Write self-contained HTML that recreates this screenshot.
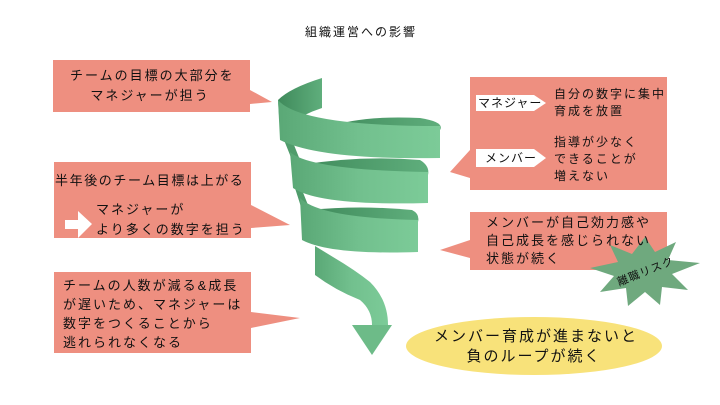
<!DOCTYPE html>
<html><head><meta charset="utf-8"><style>
html,body{margin:0;padding:0;background:#fff;}
body{width:720px;height:405px;position:relative;overflow:hidden;font-family:"Liberation Sans","Noto Sans CJK JP",sans-serif;color:#111;}
.t{position:absolute;white-space:nowrap;letter-spacing:2px;font-size:13px;line-height:17px;}
</style></head><body>
<svg width="720" height="405" style="position:absolute;left:0;top:0">
<defs>
<linearGradient id="g" x1="0" x2="1" y1="0" y2="0"><stop offset="0" stop-color="#5aa876"/><stop offset="0.5" stop-color="#72c08e"/><stop offset="1" stop-color="#7ccb98"/></linearGradient>
<linearGradient id="d" x1="0" x2="1"><stop offset="0" stop-color="#3f8a5b"/><stop offset="1" stop-color="#5fae7c"/></linearGradient>
</defs>
<polygon points="53,60 250,60 250,90 272,102 250,104 250,112 53,112" fill="#ee8f80"/>
<polygon points="54,162 251,162 251,205 290,225 251,228 251,238 54,238" fill="#ee8f80"/>
<polygon points="54,272 251,272 251,312 300,318 251,328 251,353 54,353" fill="#ee8f80"/>
<polygon points="470,77 667,77 667,190 470,190 470,178 450,172 470,150" fill="#ee8f80"/>
<polygon points="470,212 667,212 667,270 470,270 470,258 440,250 470,240" fill="#ee8f80"/>
<polygon points="476,95 534,95 546,103 534,111 476,111" fill="#fff"/>
<polygon points="476,149 534,149 546,158 534,167 476,167" fill="#fff"/>
<polygon points="65,220 78,220 78,211 92,224 78,238 78,229 65,229" fill="#fff"/>
<!-- spiral -->
<path d="M322,78 Q290,88 278,100 L280,130 Q300,115 322,108 Z" fill="url(#d)"/>
<path d="M325,128 Q360,115 420,118 Q445,122 440,130 Q400,132 360,130 Z" fill="url(#d)"/>
<path d="M282,135 L292,160 L300,160 L292,140 Z" fill="#4f9c6b"/>
<path d="M294,185 L302,210 L310,210 L302,190 Z" fill="#4f9c6b"/>
<path d="M278,100 Q300,126 440,126 L440,158 Q320,160 280,140 Z" fill="url(#g)"/>
<path d="M300,165 Q360,155 420,160 Q430,166 428,175 L330,170 Z" fill="url(#d)"/>
<path d="M290,152 Q310,170 428,172 L428,203 Q320,206 293,188 Z" fill="url(#g)"/>
<path d="M310,210 Q360,205 412,210 Q420,214 418,222 L340,218 Z" fill="url(#d)"/>
<path d="M300,198 Q320,218 418,220 L418,252 Q330,255 302,240 Z" fill="url(#g)"/>
<path d="M315,246 L315,275 Q335,290 360,300 Q372,310 372,325 L388,325 Q388,300 370,282 Q355,270 333,257 Z" fill="url(#g)"/>
<polygon points="352,325 392,325 372,355" fill="#6dbb88"/>
<polygon points="645,237 655,252 676,242 668,260 700,263 672,274 688,290 662,287 660,305 645,292 628,306 626,288 600,292 614,276 590,268 618,262 610,245 632,254" fill="#6fa97e"/>
<ellipse cx="534" cy="346" rx="128" ry="29" fill="#f8e27a"/>
</svg>
<div class="t" style="left:305px;top:24px;font-size:12px;">組織運営への影響</div>
<div class="t" style="left:70px;top:66px;line-height:20px;text-align:center;width:160px;">チームの目標の大部分を<br>マネジャーが担う</div>
<div class="t" style="left:55px;top:172px;letter-spacing:1.6px;">半年後のチーム目標は上がる</div>
<div class="t" style="left:96px;top:200px;line-height:20px;">マネジャーが<br>より多くの数字を担う</div>
<div class="t" style="left:63px;top:276px;line-height:19px;">チームの人数が減る&amp;成長<br>が遅いため、マネジャーは<br>数字をつくることから<br>逃れられなくなる</div>
<div class="t" style="left:478px;top:95px;font-size:12px;letter-spacing:1px;">マネジャー</div>
<div class="t" style="left:485px;top:150px;font-size:12px;letter-spacing:1px;">メンバー</div>
<div class="t" style="left:554px;top:86px;font-size:12px;line-height:17px;">自分の数字に集中<br>育成を放置</div>
<div class="t" style="left:554px;top:134px;font-size:12px;line-height:17px;">指導が少なく<br>できることが<br>増えない</div>
<div class="t" style="left:486px;top:214px;line-height:18px;">メンバーが自己効力感や<br>自己成長を感じられない<br>状態が続く</div>
<div class="t" style="left:616px;top:264px;font-size:11px;letter-spacing:1px;transform:rotate(-22deg);">離職リスク</div>
<div class="t" style="left:434px;top:327px;font-size:15px;line-height:20px;text-align:center;width:200px;">メンバー育成が進まないと<br>負のループが続く</div>
</body></html>
